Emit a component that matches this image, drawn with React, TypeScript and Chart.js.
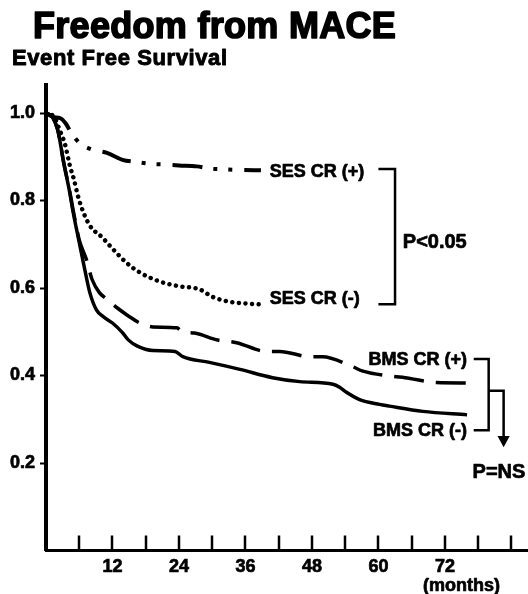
import React, { useEffect, useRef } from 'react';
import { Chart, registerables } from 'chart.js';

Chart.register(...registerables);

// ---- data (months, event-free survival) ----
const sesPosMonths = [0, 1.2, 2.6, 3.5, 4.6, 6, 8.4, 11, 13.8, 16.3, 18.7, 21.6, 24, 27.2, 29.6, 32.3, 35, 38.8];
const sesPosSurvival = [1.0, 0.991, 0.988, 0.977, 0.954, 0.932, 0.916, 0.909, 0.893, 0.888, 0.884, 0.882, 0.88, 0.878, 0.873, 0.871, 0.87, 0.869];

const sesNegMonths = [0, 1.5, 2.5, 3.4, 4.3, 5.0, 6.0, 7.8, 10.2, 12, 14.5, 17, 20.5, 24, 27.7, 30, 33, 36.7, 39.3];
const sesNegSurvival = [1.0, 0.99, 0.96, 0.93, 0.88, 0.85, 0.8, 0.745, 0.715, 0.69, 0.658, 0.635, 0.615, 0.604, 0.597, 0.58, 0.569, 0.564, 0.562];

const bmsPosMonths = [0, 1.2, 2.1, 2.6, 3.1, 4.3, 4.8, 6, 7.3, 8.3, 9.6, 10.9, 12.7, 15, 16.9, 19.3, 23.6, 24.6, 26.8, 31, 34.4, 39.8, 42.2, 47.6, 49.9, 55.2, 57.2, 62.6, 64.8, 70.5, 76];
const bmsPosSurvival = [1.0, 0.99, 0.962, 0.93, 0.893, 0.82, 0.785, 0.71, 0.665, 0.62, 0.59, 0.575, 0.556, 0.535, 0.52, 0.511, 0.509, 0.5, 0.497, 0.481, 0.475, 0.455, 0.455, 0.443, 0.443, 0.421, 0.41, 0.398, 0.395, 0.384, 0.383];

const bmsNegMonths = [0, 1.2, 2.1, 2.6, 3.1, 4.3, 4.8, 6, 7, 7.9, 9.1, 10.5, 12, 13.8, 14.8, 16.5, 19.3, 23.3, 24.7, 29.5, 35, 40.9, 45.8, 51.8, 53, 54.3, 56.6, 60.2, 62, 68, 76];
const bmsNegSurvival = [1.0, 0.99, 0.962, 0.93, 0.893, 0.817, 0.78, 0.704, 0.642, 0.59, 0.55, 0.533, 0.52, 0.498, 0.482, 0.467, 0.457, 0.455, 0.443, 0.43, 0.414, 0.395, 0.386, 0.38, 0.373, 0.361, 0.345, 0.334, 0.33, 0.318, 0.31];

const xTickValues = [6, 12, 18, 24, 30, 36, 42, 48, 54, 60, 66, 72, 78, 84];
const xTickLabels = ['', '12', '', '24', '', '36', '', '48', '', '60', '', '72', '', ''];
const yTickValues = [0.2, 0.4, 0.6, 0.8, 1.0];
const yTickLabels = ['0.2', '0.4', '0.6', '0.8', '1.0'];

const curveLabels = ['SES CR (+)', 'SES CR (-)', 'BMS CR (+)', 'BMS CR (-)'];
const pValueLabels = ['P<0.05', 'P=NS'];
const titleText = 'Freedom from MACE';
const yAxisTitle = 'Event Free Survival';
const xAxisUnit = '(months)';

const FONT = '"Liberation Sans", Arial, Helvetica, sans-serif';
const INK = '#000';

const toPoints = (xs: number[], ys: number[]) => xs.map((x, i) => ({ x, y: ys[i] }));

const heavyText = (ctx: CanvasRenderingContext2D, text: string, x: number, y: number, stroke: number) => {
  ctx.fillText(text, x, y);
  ctx.lineWidth = stroke;
  ctx.strokeText(text, x, y);
};

const decorPlugin = {
  id: 'decor',
  afterDraw(chart: any) {
    const ctx = chart.ctx as CanvasRenderingContext2D;
    const xs = chart.scales.x;
    const ys = chart.scales.y;
    const area = chart.chartArea;
    const X = (v: number) => xs.getPixelForValue(v);
    const Y = (v: number) => ys.getPixelForValue(v);
    ctx.save();
    // inward x ticks
    ctx.strokeStyle = INK;
    ctx.lineWidth = 2.5;
    xs.ticks.forEach((t: any) => {
      const px = Math.round(X(t.value));
      ctx.beginPath();
      ctx.moveTo(px, area.bottom);
      ctx.lineTo(px, area.bottom - 15);
      ctx.stroke();
    });

    ctx.fillStyle = INK;
    ctx.lineJoin = 'round';
    ctx.textBaseline = 'alphabetic';
    ctx.textAlign = 'left';
    // title
    (ctx as any).letterSpacing = '0.3px';
    ctx.font = `bold 36px ${FONT}`;
    heavyText(ctx, titleText, 33, 38, 1.6);
    (ctx as any).letterSpacing = '0.6px';
    ctx.font = `bold 22px ${FONT}`;
    heavyText(ctx, yAxisTitle, 12, 65, 0.9);
    (ctx as any).letterSpacing = '0px';

    // x unit
    ctx.font = `bold 18px ${FONT}`;
    ctx.textAlign = 'center';
    ctx.textBaseline = 'middle';
    heavyText(ctx, xAxisUnit, X(75), 586, 0.7);

    // curve labels
    ctx.textAlign = 'left';
    heavyText(ctx, curveLabels[0], X(40.4), Y(0.865), 0.7);
    heavyText(ctx, curveLabels[1], X(40.4), Y(0.575), 0.7);
    ctx.textAlign = 'right';
    heavyText(ctx, curveLabels[2], X(76), Y(0.435), 0.7);
    heavyText(ctx, curveLabels[3], X(76), Y(0.273), 0.7);

    // p values
    ctx.font = `bold 20px ${FONT}`;
    ctx.textAlign = 'left';
    heavyText(ctx, pValueLabels[0], X(64.4), Y(0.705), 0.7);
    heavyText(ctx, pValueLabels[1], X(77.0), Y(0.179), 0.7);

    // bracket SES
    ctx.lineWidth = 2.5;
    ctx.lineJoin = 'miter';
    ctx.beginPath();
    ctx.moveTo(X(60.0), Y(0.872));
    ctx.lineTo(X(63.0), Y(0.872));
    ctx.lineTo(X(63.0), Y(0.563));
    ctx.lineTo(X(60.0), Y(0.563));
    ctx.stroke();

    // bracket BMS
    ctx.beginPath();
    ctx.moveTo(X(77.2), Y(0.438));
    ctx.lineTo(X(79.9), Y(0.438));
    ctx.lineTo(X(79.9), Y(0.275));
    ctx.lineTo(X(77.2), Y(0.275));
    ctx.stroke();
    ctx.beginPath();
    ctx.moveTo(X(79.9), Y(0.365));
    ctx.lineTo(X(82.6), Y(0.365));
    ctx.lineTo(X(82.6), Y(0.262));
    ctx.stroke();
    // arrow head
    ctx.beginPath();
    ctx.moveTo(X(81.5), Y(0.262));
    ctx.lineTo(X(83.7), Y(0.262));
    ctx.lineTo(X(82.6), Y(0.236));
    ctx.closePath();
    ctx.fill();
    ctx.restore();
  },
};

export default function App() {
  const ref = useRef<HTMLCanvasElement>(null);
  useEffect(() => {
    if (!ref.current) return;
    const tickFont = { family: FONT, size: 18, weight: 'bold' as const };
    const chart = new Chart(ref.current, {
      type: 'line',
      data: {
        datasets: [
          {
            label: curveLabels[0],
            data: toPoints(sesPosMonths, sesPosSurvival),
            borderColor: INK,
            borderWidth: 4,
            borderDash: [30, 11, 4, 11, 4, 12],
            pointRadius: 0,
            cubicInterpolationMode: 'monotone',
            fill: false,
          },
          {
            label: curveLabels[1],
            data: toPoints(sesNegMonths, sesNegSurvival),
            borderColor: INK,
            borderWidth: 4.5,
            borderDash: [0.01, 6.6],
            borderCapStyle: 'round',
            pointRadius: 0,
            cubicInterpolationMode: 'monotone',
            fill: false,
          },
          {
            label: curveLabels[2],
            data: toPoints(bmsPosMonths, bmsPosSurvival),
            borderColor: INK,
            borderWidth: 3.5,
            borderDash: [30, 12],
            pointRadius: 0,
            cubicInterpolationMode: 'monotone',
            fill: false,
          },
          {
            label: curveLabels[3],
            data: toPoints(bmsNegMonths, bmsNegSurvival),
            borderColor: INK,
            borderWidth: 3.5,
            pointRadius: 0,
            cubicInterpolationMode: 'monotone',
            fill: false,
          },
        ],
      },
      options: {
        responsive: false,
        animation: false,
        devicePixelRatio: 1,
        parsing: false as any,
        layout: { padding: { top: 85, left: 0, right: 0, bottom: 0 } },
        plugins: {
          legend: { display: false },
          tooltip: { enabled: false },
          title: { display: false },
        },
        scales: {
          x: {
            type: 'linear',
            min: 0,
            max: 87,
            afterFit: (s: any) => { s.height = 43.5; },
            afterBuildTicks: (s: any) => { s.ticks = xTickValues.map((v) => ({ value: v })); },
            ticks: {
              autoSkip: false,
              maxRotation: 0,
              minRotation: 0,
              padding: 6,
              color: INK,
              textStrokeColor: INK,
              textStrokeWidth: 0.7,
              font: tickFont,
              callback: (v: any) => {
                const i = xTickValues.indexOf(Number(v));
                return i >= 0 ? xTickLabels[i] : '';
              },
            },
            grid: { display: false, drawOnChartArea: false, drawTicks: false },
            border: { display: true, width: 3, color: INK },
          },
          y: {
            type: 'linear',
            min: 0,
            max: 1.064,
            afterFit: (s: any) => { s.width = 46; },
            afterBuildTicks: (s: any) => { s.ticks = yTickValues.map((v) => ({ value: v })); },
            ticks: {
              autoSkip: false,
              padding: 5,
              color: INK,
              textStrokeColor: INK,
              textStrokeWidth: 0.7,
              font: tickFont,
              callback: (v: any) => {
                const i = yTickValues.findIndex((t) => Math.abs(t - Number(v)) < 1e-6);
                return i >= 0 ? yTickLabels[i] : '';
              },
            },
            grid: { display: true, drawOnChartArea: false, drawTicks: true, tickLength: 6, tickWidth: 2, tickColor: INK, color: INK },
            border: { display: true, width: 4, color: INK },
          },
        },
      },
      plugins: [decorPlugin],
    } as any);
    return () => chart.destroy();
  }, []);

  return (
    <div style={{ position: 'absolute', left: 0, top: 0, width: 528, height: 594, background: '#fff' }}>
      <canvas ref={ref} width={528} height={594} style={{ display: 'block', width: 528, height: 594 }} />
    </div>
  );
}
